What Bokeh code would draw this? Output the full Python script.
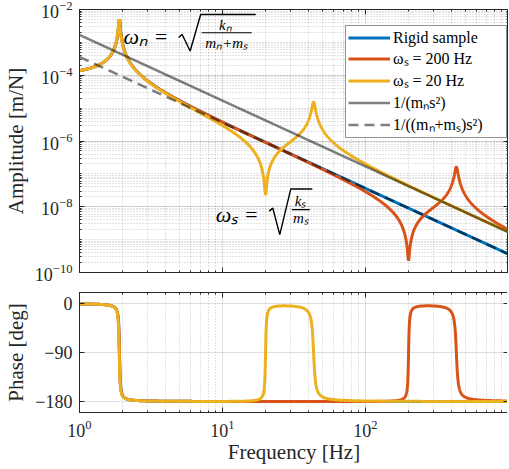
import numpy as np
from bokeh.plotting import figure
from bokeh.layouts import column
from bokeh.models import (FixedTicker, LogAxis, LinearAxis, Label, PolyAnnotation,
                          Legend, LegendItem, Range1d, CustomJSTickFormatter)
from bokeh.embed import file_html
from bokeh.resources import INLINE

# ---- model values ----
m_n = 15.0            # kg   (from 1/(m_n s^2) line)
m_s = 55.0            # kg   (from 1/((m_n+m_s) s^2) line)
k_n = 1.0e4           # N/m  (low-frequency plateau ~1e-4 m/N)
f_samples = [200.0, 20.0]   # Hz, sample resonances omega_s
zeta_n = 0.01
zeta_s = 0.01
f_min, f_max = 1.0, 1000.0
n_points = 2000

series_names = ["Rigid sample", "ωₛ = 200 Hz", "ωₛ = 20 Hz"]
series_colors = ["#0072BD", "#D95319", "#EDB120"]
asym_names = ["1/(mₙs²)", "1/((mₙ+mₛ)s²)"]

amp_major = [1e-10, 1e-8, 1e-6, 1e-4, 1e-2]
amp_minor = [m * 10.0 ** k for k in range(-10, -2) for m in range(1, 10)]
freq_major = [1, 10, 100]
freq_minor = [m * 10.0 ** k for k in range(0, 3) for m in range(2, 10)]
phase_major = [-180, -90, 0]

# ---- transfer functions ----
f = np.logspace(np.log10(f_min), np.log10(f_max), n_points)
s = 1j * 2 * np.pi * f
c_n = 2 * zeta_n * np.sqrt(k_n * (m_n + m_s))
Kn = k_n + c_n * s
H_list = [1.0 / ((m_n + m_s) * s**2 + Kn)]
for fs in f_samples:
    k_s = m_s * (2 * np.pi * fs) ** 2
    c_s = 2 * zeta_s * np.sqrt(k_s * m_s)
    Ks = k_s + c_s * s
    H_list.append((m_s * s**2 + Ks) / ((m_n * s**2 + Kn + Ks) * (m_s * s**2 + Ks) - Ks**2))
asym1 = 1.0 / (m_n * np.abs(s) ** 2)
asym2 = 1.0 / ((m_n + m_s) * np.abs(s) ** 2)

FONT = "Liberation Serif"
INK = "#262626"
FW = 429
FH1 = 263
FH2 = 120

def style(p):
    p.outline_line_color = INK
    p.outline_line_width = 1
    p.outline_line_alpha = 1
    p.background_fill_color = "white"
    p.border_fill_color = "white"
    for ax in p.axis:
        ax.major_tick_in = 5
        ax.major_tick_out = 0
        ax.minor_tick_in = 2
        ax.minor_tick_out = 0
        ax.axis_line_color = INK
        ax.major_tick_line_color = INK
        ax.minor_tick_line_color = INK
        ax.major_label_text_font = FONT
        ax.major_label_text_font_size = "18px"
        ax.major_label_text_color = INK
        ax.axis_label_text_font = FONT
        ax.axis_label_text_font_size = "21px"
        ax.axis_label_text_font_style = "normal"
        ax.axis_label_text_color = INK
    for g in p.grid:
        g.grid_line_color = "black"
        g.grid_line_alpha = 0.12
        g.minor_grid_line_color = "black"
        g.minor_grid_line_alpha = 0.22
        g.minor_grid_line_dash = "1 2"

def hide_labels(ax, standoff=0):
    ax.formatter = CustomJSTickFormatter(code="return '';")
    ax.major_label_text_font_size = "1px"
    ax.major_label_standoff = standoff

xt = FixedTicker(ticks=freq_major, minor_ticks=freq_minor)
yt = FixedTicker(ticks=amp_major, minor_ticks=amp_minor)
pt = FixedTicker(ticks=phase_major)

# ---- amplitude ----
p1 = figure(x_axis_type="log", y_axis_type="log",
            x_range=Range1d(f_min, f_max), y_range=Range1d(1e-10, 1e-2),
            frame_width=FW, frame_height=FH1,
            min_border_left=68, min_border_right=0, min_border_top=9, min_border_bottom=13,
            output_backend="svg", toolbar_location=None)
p1_top = LogAxis(ticker=xt)
p1_right = LogAxis(ticker=yt)
p1.add_layout(p1_top, "above")
p1.add_layout(p1_right, "right")
p1_bottom = p1.below[0]
p1_left = p1.left[0]
p1_bottom.ticker = xt
p1_left.ticker = yt
p1.xgrid.ticker = xt
p1.ygrid.ticker = yt
p1_left.axis_label = "Amplitude [m/N]"
style(p1)
hide_labels(p1_top, 0)
hide_labels(p1_bottom, 0)
hide_labels(p1_right, 0)
p1_left.major_label_standoff = 7
p1_left.axis_label_standoff = 4

items = []
for H, name, col in zip(H_list, series_names, series_colors):
    r = p1.line(f, np.abs(H), line_color=col, line_width=3)
    items.append(LegendItem(label=name, renderers=[r]))
ra = p1.line(f, asym1, line_color="black", line_alpha=0.5, line_width=2.5)
rb = p1.line(f, asym2, line_color="black", line_alpha=0.5, line_width=2.5, line_dash="10 6")
items.append(LegendItem(label=asym_names[0], renderers=[ra]))
items.append(LegendItem(label=asym_names[1], renderers=[rb]))

leg = Legend(items=items, location=(FW - 3 - 160, FH1 - 17 - 112),
             border_line_color=INK, border_line_width=1, background_fill_alpha=1,
             label_text_font=FONT, label_text_font_size="16px", label_text_color="black",
             glyph_width=42, glyph_height=19, label_height=19, spacing=0,
             padding=2, label_standoff=3, label_width=111)
p1.add_layout(leg)

# annotation helpers: reference pixel position -> data coordinates
def fx(px):
    return 10 ** ((px - 76.0) / 142.8)

def fy(py):
    return 10 ** (-2.0 - (py - 10.0) / 32.85)

def txt(x, y, t, size, align="left", base="alphabetic"):
    p1.add_layout(Label(x=fx(x), y=fy(y), text=t, text_font=FONT, text_font_size=size,
                        text_font_style="italic", text_color="black",
                        text_align=align, text_baseline=base))

def stroke(pts, w=1.4):
    xs = [fx(a) for a, b in pts] + [fx(a) for a, b in pts[-2:0:-1]]
    ys = [fy(b) for a, b in pts] + [fy(b) for a, b in pts[-2:0:-1]]
    p1.add_layout(PolyAnnotation(xs=xs, ys=ys, fill_alpha=0, line_color="black",
                                 line_alpha=1, line_width=w))

# omega_n = sqrt(k_n / (m_n + m_s))
txt(120, 37, "ωₙ =", "22px")
stroke([(175, 38), (178.5, 35), (186.5, 51.5), (197, 15), (252, 15)])
txt(221.7, 25.5, "kₙ", "15px", "center", "middle")
stroke([(198, 33.3), (248, 33.3)], 1.1)
txt(223, 43, "mₙ+mₛ", "15px", "center", "middle")

# omega_s = sqrt(k_s / m_s)
txt(212, 215, "ωₛ =", "22px")
stroke([(265.5, 211.5), (269, 208.5), (276, 235), (287, 189.3), (308.5, 189.3)])
txt(296.7, 201, "kₛ", "15px", "center", "middle")
stroke([(288, 210), (306, 210)], 1.1)
txt(297, 218.5, "mₛ", "15px", "center", "middle")

# ---- phase ----
p2 = figure(x_axis_type="log", x_range=p1.x_range, y_range=Range1d(-200, 20),
            frame_width=FW, frame_height=FH2,
            min_border_left=68, min_border_right=0, min_border_top=7, min_border_bottom=2,
            output_backend="svg", toolbar_location=None)
p2_top = LogAxis(ticker=xt)
p2_right = LinearAxis(ticker=pt)
p2.add_layout(p2_top, "above")
p2.add_layout(p2_right, "right")
p2_bottom = p2.below[0]
p2_left = p2.left[0]
p2_bottom.ticker = xt
p2_left.ticker = pt
p2.xgrid.ticker = xt
p2.ygrid.ticker = pt
p2_bottom.axis_label = "Frequency [Hz]"
p2_left.axis_label = "Phase [deg]"
style(p2)
hide_labels(p2_top, 0)
hide_labels(p2_right, 0)
p2_left.major_label_standoff = 7
p2_left.axis_label_standoff = 4
p2_bottom.major_label_standoff = 7
p2_bottom.axis_label_standoff = 0

for H, col in zip(H_list, series_colors):
    ph = np.degrees(np.unwrap(np.angle(H)))
    p2.line(f, ph, line_color=col, line_width=3)

layout = column(p1, p2, spacing=0)
open("out.html", "w").write(file_html(layout, INLINE))
